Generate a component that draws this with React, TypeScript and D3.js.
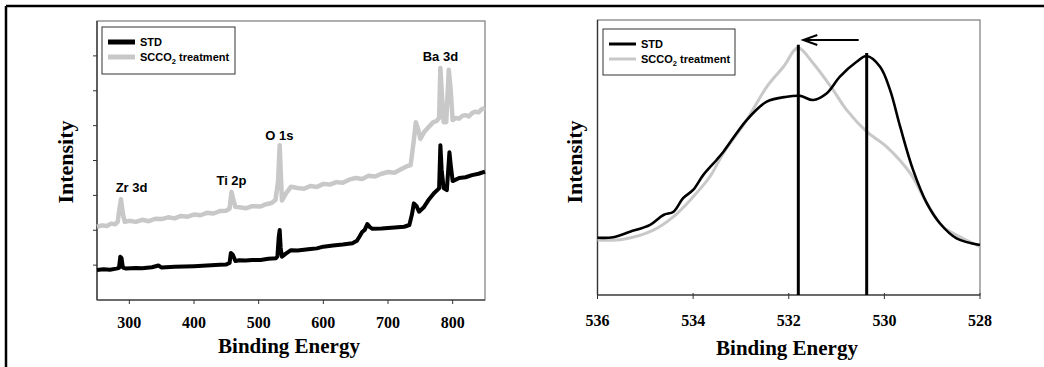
import React from "react";
import * as d3 from "d3";

// ---------- Survey spectrum (left) ----------
const surveyXTicks = [300, 400, 500, 600, 700, 800];
const surveyYTicks = [1, 2, 3, 4, 5, 6, 7];
const stdSurvey: [number, number][] = [
  [250, 0.86], [260, 0.88], [270, 0.87], [280, 0.9], [284, 0.92], [286, 1.24], [288, 1.2], [290, 0.93],
  [295, 0.9], [310, 0.92], [320, 0.91], [335, 0.94], [345, 0.99], [350, 0.93], [370, 0.95], [385, 0.96],
  [400, 0.97], [420, 0.99], [440, 1.01], [450, 1.02], [455, 1.06], [457, 1.35], [460, 1.3], [464, 1.12],
  [470, 1.14], [480, 1.13], [490, 1.15], [503, 1.15], [515, 1.18], [527, 1.2], [529, 1.25], [531, 1.8],
  [532.5, 2.01], [534, 1.5], [536, 1.24], [542, 1.33], [550, 1.43], [560, 1.42], [570, 1.44], [580, 1.46],
  [590, 1.48], [600, 1.53], [615, 1.56], [630, 1.59], [645, 1.63], [652, 1.7], [656, 1.82], [660, 1.95],
  [664, 2.01], [668, 2.18], [672, 2.09], [676, 2.04], [690, 2.05], [705, 2.07], [725, 2.1], [733, 2.15],
  [737, 2.45], [740, 2.77], [744, 2.7], [748, 2.53], [755, 2.65], [762, 2.85], [771, 3.06], [779, 3.2],
  [781, 4.44], [783, 3.73], [786, 3.21], [791, 3.15], [795, 4.24], [797, 3.87], [800, 3.41], [810, 3.5],
  [820, 3.52], [830, 3.58], [840, 3.62], [850, 3.68],
];
const scco2Survey: [number, number][] = [
  [250, 2.1], [258, 2.14], [265, 2.12], [272, 2.19], [278, 2.17], [282, 2.24], [284, 2.52], [287, 2.89],
  [290, 2.47], [293, 2.24], [300, 2.27], [310, 2.24], [320, 2.3], [330, 2.26], [340, 2.33], [350, 2.32],
  [360, 2.37], [370, 2.34], [380, 2.41], [390, 2.39], [400, 2.45], [410, 2.43], [420, 2.5], [430, 2.48],
  [440, 2.55], [450, 2.56], [455, 2.62], [458, 3.1], [461, 2.87], [464, 2.67], [470, 2.66], [480, 2.63],
  [490, 2.69], [503, 2.68], [510, 2.74], [520, 2.78], [526, 2.87], [530, 3.4], [532.5, 4.44], [534.5, 3.5],
  [536, 2.85], [542, 3.05], [550, 3.25], [560, 3.21], [570, 3.19], [580, 3.27], [590, 3.24], [600, 3.33],
  [610, 3.31], [620, 3.38], [630, 3.36], [640, 3.45], [650, 3.5], [660, 3.47], [670, 3.56], [680, 3.54],
  [690, 3.62], [700, 3.67], [710, 3.65], [720, 3.75], [730, 3.84], [735, 3.87], [740, 4.59], [743, 5.1],
  [747, 4.87], [750, 4.62], [756, 4.82], [763, 4.96], [770, 5.1], [775, 5.13], [779, 5.22], [781, 6.65],
  [783, 6.0], [786, 5.1], [790, 5.1], [794, 6.6], [797, 6.0], [800, 5.16], [805, 5.22], [810, 5.2],
  [815, 5.28], [820, 5.3], [825, 5.26], [830, 5.36], [835, 5.4], [840, 5.38], [845, 5.47], [850, 5.51],
];
const peakLabels = ["Zr 3d", "Ti 2p", "O 1s", "Ba 3d"];
const peakLabelEnergy = [285, 458, 532, 781];
const peakLabelIntensity = [3.1, 3.3, 4.6, 6.85];

// ---------- O 1s region (right) ----------
const o1sXTicks = [536, 534, 532, 530, 528];
const stdO1s: [number, number][] = [
  [536.0, 0.208], [535.67, 0.21], [535.32, 0.23], [534.9, 0.255], [534.62, 0.291], [534.41, 0.303],
  [534.21, 0.352], [534.0, 0.382], [533.79, 0.436], [533.51, 0.491], [533.37, 0.52], [532.88, 0.636],
  [532.46, 0.703], [532.04, 0.721], [531.76, 0.724], [531.49, 0.709], [531.21, 0.733], [530.93, 0.794],
  [530.58, 0.848], [530.37, 0.869], [530.09, 0.83], [529.88, 0.745], [529.67, 0.612], [529.4, 0.455],
  [529.11, 0.333], [528.84, 0.261], [528.49, 0.206], [528.0, 0.182],
];
const scco2O1s: [number, number][] = [
  [536.0, 0.2], [535.46, 0.203], [534.83, 0.236], [534.41, 0.285], [534.0, 0.357], [533.65, 0.43],
  [533.37, 0.515], [532.88, 0.636], [532.46, 0.757], [532.11, 0.83], [531.81, 0.898], [531.49, 0.843],
  [531.07, 0.745], [530.79, 0.673], [530.37, 0.594], [529.95, 0.539], [529.46, 0.443], [529.11, 0.333],
  [528.77, 0.248], [528.42, 0.212], [528.0, 0.176],
];
const peakMarkers = [531.8, 530.37];
const peakMarkerTops = [0.91, 0.88];

const seriesNames = ["STD", "SCCO2 treatment"];
const GREY = "#c8c8c8";
const FRAME = "#7a7a7a";
const serif = "'Liberation Serif', 'Times New Roman', serif";
const sans = "'Liberation Sans', Arial, sans-serif";

function Legend({ x, y, w, h, lw }: { x: number; y: number; w: number; h: number; lw: number }) {
  return (
    <g>
      <rect x={x} y={y} width={w} height={h} fill="white" stroke="#333" strokeWidth={1} />
      <line x1={x + 6} x2={x + 33} y1={y + 15} y2={y + 15} stroke="black" strokeWidth={lw} />
      <line x1={x + 6} x2={x + 33} y1={y + 30} y2={y + 30} stroke={GREY} strokeWidth={lw} />
      <text x={x + 38} y={y + 19} fontFamily={sans} fontWeight="bold" fontSize={11}>{seriesNames[0]}</text>
      <text x={x + 38} y={y + 34} fontFamily={sans} fontWeight="bold" fontSize={11}>
        SCCO<tspan fontSize={7.5} dy={3}>2</tspan><tspan dy={-3}> treatment</tspan>
      </text>
    </g>
  );
}

export default function App() {
  // left
  const lx = d3.scaleLinear().domain([250, 850]).range([97, 485]);
  const ly = d3.scaleLinear().domain([0, 8]).range([300, 21]);
  const lLine = d3.line<[number, number]>().x((d) => lx(d[0])).y((d) => ly(d[1]));
  // right
  const rx = d3.scaleLinear().domain([536, 528]).range([597.5, 980]);
  const ry = d3.scaleLinear().domain([0, 1]).range([295, 20]);
  const rLine = d3
    .line<[number, number]>()
    .x((d) => rx(d[0]))
    .y((d) => ry(d[1]))
    .curve(d3.curveCatmullRom.alpha(0.5));

  const arrowY = 40;
  const arrowX1 = rx(peakMarkers[0]) + 5;
  const arrowX2 = rx(peakMarkers[1]) - 8;

  return (
    <svg width={1044} height={367} style={{ position: "absolute", left: 0, top: 0, background: "white" }}>
      <rect x={0} y={0} width={1044} height={367} fill="white" />
      {/* outer border (top & left) */}
      <line x1={6} x2={1044} y1={6} y2={6} stroke="black" strokeWidth={2.5} />
      <line x1={6} x2={6} y1={6} y2={367} stroke="black" strokeWidth={2.5} />

      {/* ---------- Left chart ---------- */}
      <g>
        <rect x={lx(250)} y={ly(8)} width={lx(850) - lx(250)} height={ly(0) - ly(8)} fill="none" stroke={FRAME} strokeWidth={1.2} />
        <line x1={lx(250)} x2={lx(250)} y1={ly(8)} y2={ly(0)} stroke="#333" strokeWidth={1.3} />
        <line x1={lx(250)} x2={lx(850)} y1={ly(0)} y2={ly(0)} stroke="#555" strokeWidth={1.3} />
        {surveyYTicks.map((t) => (
          <line key={t} x1={lx(250) - 4} x2={lx(250)} y1={ly(t)} y2={ly(t)} stroke="#333" strokeWidth={1} />
        ))}
        {surveyXTicks.map((t) => (
          <g key={t}>
            <line x1={lx(t)} x2={lx(t)} y1={ly(0)} y2={ly(0) + 4} stroke="#333" strokeWidth={1} />
            <text x={lx(t)} y={328} textAnchor="middle" fontFamily={serif} fontWeight="bold" fontSize={16}>{t}</text>
          </g>
        ))}
        <path d={lLine(scco2Survey) || ""} fill="none" stroke={GREY} strokeWidth={4.5} strokeLinejoin="round" />
        <path d={lLine(stdSurvey) || ""} fill="none" stroke="black" strokeWidth={4} strokeLinejoin="round" />
        {peakLabels.map((p, i) => (
          <text key={p} x={lx(peakLabelEnergy[i])} y={ly(peakLabelIntensity[i])} textAnchor={i === 0 ? "start" : "middle"} dx={i === 0 ? -4 : 0} fontFamily={sans} fontWeight="bold" fontSize={13}>{p}</text>
        ))}
        <Legend x={102} y={27} w={133} h={47} lw={5} />
        <text transform={`translate(73,162) rotate(-90)`} textAnchor="middle" fontFamily={serif} fontWeight="bold" fontSize={22}>Intensity</text>
        <text x={289} y={353} textAnchor="middle" fontFamily={serif} fontWeight="bold" fontSize={21}>Binding Energy</text>
      </g>

      {/* ---------- Right chart ---------- */}
      <g>
        <rect x={rx(536)} y={ry(1)} width={rx(528) - rx(536)} height={ry(0) - ry(1)} fill="none" stroke={FRAME} strokeWidth={1.2} />
        <line x1={rx(536)} x2={rx(536)} y1={ry(1)} y2={ry(0)} stroke="#333" strokeWidth={1.3} />
        <line x1={rx(536)} x2={rx(528)} y1={ry(0)} y2={ry(0)} stroke="#555" strokeWidth={1.3} />
        {o1sXTicks.map((t) => (
          <g key={t}>
            <line x1={rx(t)} x2={rx(t)} y1={ry(0) - 2} y2={ry(0) + 4} stroke="#333" strokeWidth={1} />
            <text x={rx(t)} y={326} textAnchor="middle" fontFamily={serif} fontWeight="bold" fontSize={16}>{t}</text>
          </g>
        ))}
        <path d={rLine(scco2O1s) || ""} fill="none" stroke={GREY} strokeWidth={3} />
        <path d={rLine(stdO1s) || ""} fill="none" stroke="black" strokeWidth={2.6} />
        {peakMarkers.map((m, i) => (
          <line key={m} x1={rx(m)} x2={rx(m)} y1={ry(peakMarkerTops[i])} y2={ry(0)} stroke="black" strokeWidth={3} />
        ))}
        <line x1={arrowX1} x2={arrowX2} y1={arrowY} y2={arrowY} stroke="black" strokeWidth={2} />
        <polyline points={`${arrowX1 + 14},${arrowY - 5} ${arrowX1},${arrowY} ${arrowX1 + 14},${arrowY + 5}`} fill="none" stroke="black" strokeWidth={2} />
        <Legend x={603} y={29} w={132} h={46} lw={3} />
        <text transform={`translate(582,162) rotate(-90)`} textAnchor="middle" fontFamily={serif} fontWeight="bold" fontSize={22}>Intensity</text>
        <text x={787} y={355} textAnchor="middle" fontFamily={serif} fontWeight="bold" fontSize={21}>Binding Energy</text>
      </g>
    </svg>
  );
}
